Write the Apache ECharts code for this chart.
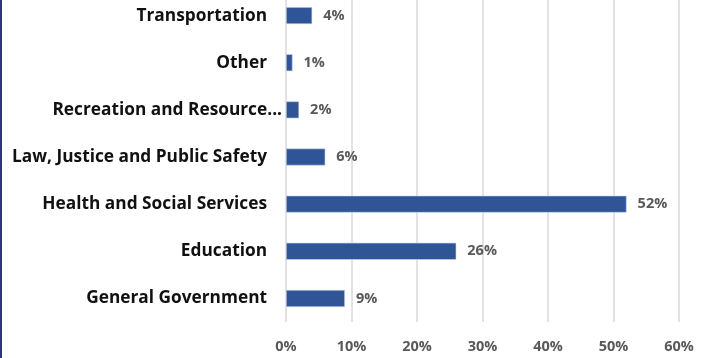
<!DOCTYPE html>
<html>
<head>
<meta charset="utf-8">
<script src="https://cdn.jsdelivr.net/npm/echarts@6/dist/echarts.min.js"></script>
<style>
    html, body { margin: 0; padding: 0; background: #fff; overflow: hidden; }
    #wrap { width: 710px; height: 358px; border-left: 2px solid #2e3778; overflow: hidden; }
    /* plot top is cut off in the original, so the chart starts a bit above the window */
    #chart { width: 710px; height: 366px; margin-top: -8px; }
</style>
</head>
<body>
<div id="wrap"><div id="chart"></div></div>
<script>
// bottom to top, like the picture reads from below
const categories = [
    'General Government',
    'Education',
    'Health and Social Services',
    'Law, Justice and Public Safety',
    'Recreation and Resource...',
    'Other',
    'Transportation',
];
const shares = [9, 26, 52, 6, 2, 1, 4];
const tickValues = [0, 10, 20, 30, 40, 50, 60];

const FONT = '"Open Sans", "Noto Sans", sans-serif';
const truncated = 'Recreation and Resource...';

let myChart = echarts.init(document.getElementById('chart'));
myChart.setOption({
    animation: false,
    grid: {
        left: 284,
        right: 33,
        top: 0,
        bottom: 36,
    },
    xAxis: {
        type: 'value',
        min: tickValues[0],
        max: tickValues[tickValues.length - 1],
        interval: 10,
        axisLine: { show: false },
        axisTick: { show: false },
        splitLine: { lineStyle: { color: '#d9d9d9', width: 1.5 } },
        axisLabel: {
            formatter: '{value}%',
            color: '#595959',
            fontFamily: FONT,
            fontWeight: 'bold',
            fontSize: 14.5,
            margin: 17,
        },
    },
    yAxis: {
        type: 'category',
        data: categories,
        axisLine: { show: false },
        axisTick: { show: false },
        axisLabel: {
            margin: 4,
            formatter: (v) => v === truncated ? '{b|' + v + '}' : '{a|' + v + '}',
            rich: {
                a: { color: '#111', fontFamily: FONT, fontWeight: 'bold', fontSize: 17.3, padding: [0, 15, 0, 0] },
                b: { color: '#111', fontFamily: FONT, fontWeight: 'bold', fontSize: 17.3 },
            },
        },
    },
    series: [{
        type: 'bar',
        data: shares,
        barWidth: 17,
        itemStyle: {
            color: '#2f5597',
            borderColor: '#c9d6ec',
            borderWidth: 0.6,
        },
        label: {
            show: true,
            position: 'right',
            distance: 11,
            formatter: '{c}%',
            color: '#595959',
            fontFamily: FONT,
            fontWeight: 'bold',
            fontSize: 14.5,
        },
    }],
});
window.addEventListener('resize', myChart.resize);
</script>
</body>
</html>
